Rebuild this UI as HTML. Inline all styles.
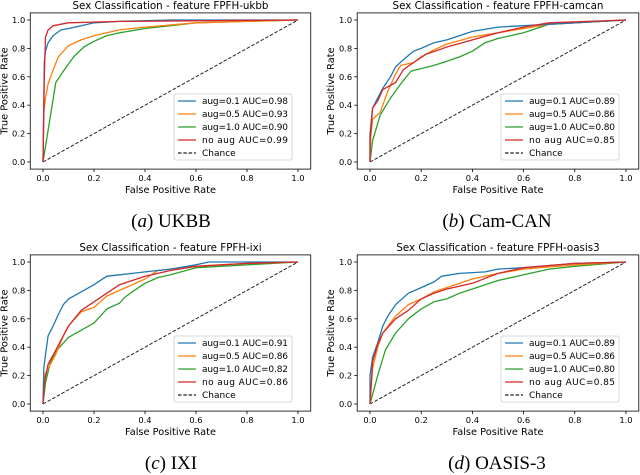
<!DOCTYPE html>
<html><head><meta charset="utf-8">
<style>
body{margin:0;background:#fff;}
svg{display:block;font-family:"DejaVu Sans","Liberation Sans",sans-serif;}
.cap{font-family:"Liberation Serif",serif;font-size:19px;}
</style></head>
<body>
<svg id="fig" width="640" height="475" viewBox="0 0 640 475" xmlns="http://www.w3.org/2000/svg"></svg>
<script>
// ---- data ----
const panelTitles = ["Sex Classification - feature FPFH-ukbb","Sex Classification - feature FPFH-camcan","Sex Classification - feature FPFH-ixi","Sex Classification - feature FPFH-oasis3"];
const captionLetters = ["a","b","c","d"];
const captionNames = ["UKBB","Cam-CAN","IXI","OASIS-3"];
const seriesNames = ["aug=0.1","aug=0.5","aug=1.0","no aug"];
const ticks = [0,0.2,0.4,0.6,0.8,1.0];
const aucA = [0.98,0.93,0.90,0.99];
const aucB = [0.89,0.86,0.80,0.85];
const aucC = [0.91,0.86,0.82,0.86];
const aucD = [0.89,0.86,0.80,0.85];
// panel a
const aBlueX=[0,0.005,0.01,0.02,0.04,0.07,0.1,0.15,0.2,0.3,0.5,1];
const aBlueY=[0,0.7,0.78,0.84,0.89,0.93,0.94,0.96,0.98,0.99,1,1];
const aOrgX=[0,0.003,0.01,0.02,0.04,0.06,0.1,0.15,0.2,0.3,0.4,0.6,0.8,1];
const aOrgY=[0,0.35,0.45,0.55,0.65,0.74,0.82,0.86,0.89,0.93,0.95,0.98,0.99,1];
const aGrnX=[0,0.05,0.08,0.12,0.16,0.2,0.25,0.3,0.4,0.5,0.6,0.8,1];
const aGrnY=[0,0.56,0.64,0.74,0.81,0.85,0.89,0.91,0.94,0.96,0.98,0.99,1];
const aRedX=[0,0.005,0.01,0.02,0.04,0.1,0.3,1];
const aRedY=[0,0.6,0.88,0.93,0.96,0.98,0.99,1];
// panel b
const bBlueX=[0,0,0.01,0.03,0.05,0.08,0.1,0.13,0.17,0.2,0.25,0.3,0.35,0.4,0.5,0.6,0.8,1];
const bBlueY=[0,0.2,0.38,0.45,0.52,0.6,0.67,0.72,0.78,0.8,0.84,0.86,0.89,0.92,0.95,0.96,0.98,1];
const bOrgX=[0,0.003,0.01,0.04,0.07,0.1,0.12,0.17,0.2,0.25,0.3,0.4,0.5,0.6,0.7,0.8,1];
const bOrgY=[0,0.18,0.3,0.35,0.5,0.62,0.68,0.7,0.74,0.79,0.83,0.88,0.91,0.94,0.97,0.98,1];
const bGrnX=[0,0.01,0.04,0.08,0.12,0.16,0.25,0.3,0.35,0.4,0.45,0.5,0.55,0.6,0.65,0.7,0.8,1];
const bGrnY=[0,0.15,0.33,0.45,0.55,0.64,0.68,0.71,0.74,0.78,0.84,0.87,0.89,0.91,0.94,0.97,0.98,1];
const bRedX=[0,0,0.01,0.03,0.05,0.1,0.13,0.17,0.22,0.27,0.3,0.4,0.5,0.6,0.7,1];
const bRedY=[0,0.15,0.38,0.43,0.51,0.56,0.65,0.7,0.76,0.79,0.81,0.86,0.91,0.95,0.98,1];
// panel c
const cBlueX=[0,0.003,0.01,0.02,0.04,0.06,0.08,0.1,0.15,0.2,0.25,0.3,0.35,0.4,0.5,0.6,0.65,1];
const cBlueY=[0,0.25,0.35,0.48,0.55,0.63,0.7,0.74,0.79,0.84,0.9,0.91,0.92,0.93,0.95,0.98,1,1];
const cOrgX=[0,0.005,0.02,0.05,0.08,0.1,0.15,0.2,0.25,0.3,0.35,0.4,0.45,0.5,0.6,0.8,1];
const cOrgY=[0,0.2,0.25,0.35,0.48,0.55,0.65,0.68,0.76,0.8,0.84,0.88,0.94,0.95,0.97,0.99,1];
const cGrnX=[0,0.01,0.03,0.05,0.1,0.15,0.2,0.25,0.3,0.32,0.35,0.4,0.45,0.5,0.6,0.8,1];
const cGrnY=[0,0.15,0.3,0.37,0.47,0.52,0.57,0.67,0.71,0.75,0.79,0.85,0.89,0.91,0.96,0.98,1];
const cRedX=[0,0.005,0.02,0.05,0.1,0.15,0.2,0.25,0.3,0.35,0.4,0.5,0.6,0.7,0.8,1];
const cRedY=[0,0.15,0.28,0.38,0.55,0.66,0.72,0.78,0.84,0.87,0.9,0.94,0.97,0.98,0.99,1];
// panel d
const dBlueX=[0,0,0.01,0.03,0.05,0.07,0.1,0.15,0.2,0.25,0.28,0.35,0.45,0.5,0.6,0.8,1];
const dBlueY=[0,0.2,0.33,0.43,0.55,0.62,0.7,0.78,0.82,0.86,0.9,0.92,0.93,0.95,0.96,0.99,1];
const dOrgX=[0,0.01,0.03,0.05,0.1,0.15,0.2,0.25,0.3,0.4,0.5,0.6,0.8,1];
const dOrgY=[0,0.25,0.4,0.5,0.62,0.7,0.74,0.79,0.82,0.88,0.92,0.95,0.98,1];
const dGrnX=[0,0.03,0.06,0.1,0.15,0.2,0.25,0.3,0.35,0.4,0.5,0.6,0.7,0.8,1];
const dGrnY=[0,0.2,0.38,0.5,0.6,0.67,0.72,0.74,0.78,0.81,0.87,0.91,0.95,0.97,1];
const dRedX=[0,0.01,0.03,0.05,0.1,0.15,0.2,0.25,0.3,0.4,0.5,0.6,0.8,1];
const dRedY=[0,0.3,0.42,0.5,0.6,0.66,0.74,0.78,0.81,0.85,0.92,0.96,0.99,1];

const colors=["#1f77b4","#ff7f0e","#2ca02c","#d62728"];
const NS="http://www.w3.org/2000/svg";
const svg=document.getElementById('fig');
function mk(tag,attrs,parent){const e=document.createElementNS(NS,tag);for(const k in attrs)e.setAttribute(k,attrs[k]);(parent||svg).appendChild(e);return e;}

const panels=[
 {x0:43,x1:298,y0:162,y1:20,cx:171,capY:227,xs:[aBlueX,aOrgX,aGrnX,aRedX],ys:[aBlueY,aOrgY,aGrnY,aRedY],auc:aucA,leg:[174,94]},
 {x0:370,x1:626,y0:162,y1:20,cx:497,capY:227,xs:[bBlueX,bOrgX,bGrnX,bRedX],ys:[bBlueY,bOrgY,bGrnY,bRedY],auc:aucB,leg:[501,94]},
 {x0:43,x1:298,y0:404,y1:262,cx:171,capY:469,xs:[cBlueX,cOrgX,cGrnX,cRedX],ys:[cBlueY,cOrgY,cGrnY,cRedY],auc:aucC,leg:[174,336]},
 {x0:370,x1:626,y0:404,y1:262,cx:497,capY:469,xs:[dBlueX,dOrgX,dGrnX,dRedX],ys:[dBlueY,dOrgY,dGrnY,dRedY],auc:aucD,leg:[501,336]}
];

panels.forEach((p,i)=>{
  const g=mk('g',{});
  
  
  const sx=v=>p.x0+v*(p.x1-p.x0);
  const sy=v=>p.y0+v*(p.y1-p.y0);
  const bx0=sx(-0.05),bx1=sx(1.05),by0=sy(-0.05),by1=sy(1.05);
  const t=mk('text',{x:(bx0+bx1)/2,y:by1-4,'text-anchor':'middle','font-size':'10.3'},g);
  t.textContent=panelTitles[i];
  
  
  ticks.forEach(v=>{
    mk('line',{x1:sx(v),x2:sx(v),y1:by0,y2:by0+3,stroke:'#000','stroke-width':0.8},g);
    const tx=mk('text',{x:sx(v),y:by0+12,'text-anchor':'middle','font-size':'8.3'},g);
    tx.textContent=v.toFixed(1);
    
    
    mk('line',{x1:bx0-3,x2:bx0,y1:sy(v),y2:sy(v),stroke:'#000','stroke-width':0.8},g);
    const ty=mk('text',{x:bx0-5,y:sy(v)+3,'text-anchor':'end','font-size':'8.3'},g);
    ty.textContent=v.toFixed(1);
    
    
  });
  const xl=mk('text',{x:(bx0+bx1)/2,y:by0+24,'text-anchor':'middle','font-size':'9.8'},g);
  xl.textContent='False Positive Rate';
  
  
  const yx=bx0-23,yy=(by0+by1)/2;
  const yl=mk('text',{x:yx,y:yy,'text-anchor':'middle','font-size':'9.8',transform:`rotate(-90 ${yx} ${yy})`},g);
  yl.textContent='True Positive Rate';
  
  
  const ch=mk('line',{x1:sx(0),y1:sy(0),x2:sx(1),y2:sy(1),stroke:'#222','stroke-width':1,'stroke-dasharray':'3.5,1.8'},g);
  
  
  for(let s=3;s>=0;s--){
    const order=[2,1,0,3][3-s];
    const xs=p.xs[order],ys=p.ys[order];
    const d=xs.map((v,k)=>(k?'L':'M')+sx(v).toFixed(1)+','+sy(ys[k]).toFixed(1)).join('');
    const pl=mk('path',{d:d,fill:'none',stroke:colors[order],'stroke-width':1.3,'stroke-linejoin':'round'},g);
    
    
  }
  mk('rect',{x:bx0,y:by1,width:bx1-bx0,height:by0-by1,fill:'none',stroke:'#000','stroke-width':0.8},g);
  const L=mk('g',{},g);
  
  
  const lx=p.leg[0],ly=p.leg[1];
  mk('rect',{x:lx,y:ly,width:118,height:66,rx:2,fill:'#fff','fill-opacity':0.85,stroke:'#ccc','stroke-width':0.8},L);
  for(let s=0;s<5;s++){
    const yy2=ly+7+s*13;
    const attrs={x1:lx+4,x2:lx+22,y1:yy2,y2:yy2,stroke:s<4?colors[s]:'#222','stroke-width':1.3};
    if(s==4)attrs['stroke-dasharray']='3.5,1.8';
    mk('line',attrs,L);
    const lt=mk('text',{x:lx+28,y:yy2+3.2,'font-size':'9','textLength':s<4?86:0},L);
    if(s==4)lt.removeAttribute('textLength');
    lt.textContent=s<4?(seriesNames[s]+' AUC='+p.auc[s].toFixed(2)):'Chance';
    
    
  }
  const c=mk('text',{x:p.cx,y:p.capY,'text-anchor':'middle',class:'cap'},g);
  c.innerHTML='(<tspan font-style="italic">'+captionLetters[i]+'</tspan>) '+captionNames[i];
  
  
});
</script>
</body></html>
